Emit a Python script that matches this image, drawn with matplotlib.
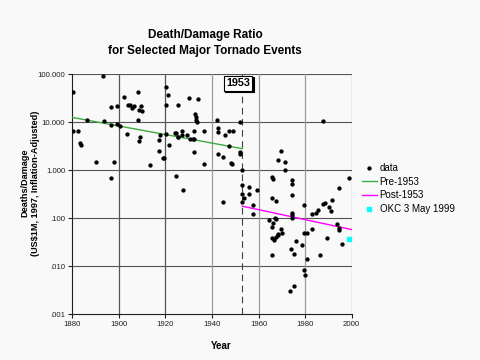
import matplotlib
matplotlib.use("Agg")
import matplotlib.pyplot as plt
from matplotlib import transforms

plt.rcParams['font.family'] = ['Liberation Sans', 'DejaVu Sans']

# tornado events: year, deaths per US$1M damage
years = [
    1880.3, 1880.3, 1882.4, 1883.1, 1883.8, 1886.5, 1890.3, 1893.4, 1893.7,
    1896.5, 1896.5, 1896.6, 1898.0, 1899.3, 1899.4, 1900.7, 1902.3, 1903.4,
    1904.0, 1905.0, 1905.7, 1906.4, 1908.1, 1908.2, 1908.5, 1909.2, 1908.6,
    1909.4, 1909.8, 1913.3, 1917.5, 1917.4, 1917.3, 1918.8, 1919.5, 1920.3,
    1921.2, 1920.2, 1920.3, 1921.5, 1924.3, 1924.6, 1925.3, 1925.3, 1924.5,
    1925.4, 1927.3, 1927.3, 1927.7, 1929.4, 1930.1, 1930.4, 1932.2, 1932.6,
    1933.0, 1933.3, 1933.7, 1934.2, 1931.8, 1932.3, 1932.4, 1936.5, 1936.5,
    1942.3, 1942.7, 1942.8, 1942.4, 1944.7, 1944.7, 1945.4, 1947.5, 1949.2,
    1947.5, 1948.2, 1948.5, 1952.1, 1952.1, 1952.2,
    # post-1953
    1953.1, 1953.1, 1955.7, 1959.2, 1953.1, 1956.0, 1953.8, 1953.1, 1957.5,
    1957.5, 1965.7, 1966.3, 1968.4, 1969.5, 1971.3, 1971.3, 1974.3, 1974.3,
    1974.3, 1965.7, 1967.4, 1964.4, 1967.1, 1967.3, 1974.2, 1974.3, 1974.4,
    1965.6, 1966.3, 1969.7, 1969.9, 1968.2, 1967.4, 1968.5, 1965.6, 1966.7,
    1965.6, 1979.7, 1985.7, 1984.9, 1982.8, 1988.7, 1987.9, 1991.7, 1990.4,
    1991.0, 1982.8, 1979.7, 1980.7, 1976.0, 1978.5, 1973.8, 1975.4, 1980.9,
    1986.3, 1979.5, 1979.9, 1975.4, 1973.6, 1989.3, 1993.5, 1994.6, 1994.6,
    1995.7, 1994.6, 1998.8, 1987.8,
]
ratios = [
    41.6, 6.6, 6.6, 3.7, 3.4, 10.9, 1.49, 92.0, 10.6,
    20.2, 8.5, 0.68, 1.49, 9.1, 21.5, 8.3, 33.0, 5.6,
    22.6, 22.6, 19.5, 22.0, 42.0, 10.9, 4.1, 4.8, 18.0,
    21.9, 16.7, 1.29, 5.4, 4.2, 2.5, 1.8, 1.8, 54.0,
    36.0, 23.0, 5.6, 3.4, 5.8, 0.75, 22.3, 4.8, 5.8,
    5.0, 6.6, 5.4, 0.39, 5.4, 31.0, 4.4, 4.4, 15.0,
    13.0, 11.3, 10.0, 30.0, 4.4, 6.6, 2.4, 6.6, 1.36,
    10.8, 7.4, 6.1, 2.2, 1.9, 0.22, 5.4, 6.6, 6.6,
    3.2, 1.4, 1.36, 9.8, 2.4, 2.2,
    # post-1953
    1.0, 0.49, 0.44, 0.39, 0.32, 0.32, 0.26, 0.22, 0.19,
    0.12, 0.72, 0.64, 1.6, 2.5, 1.5, 0.99, 0.62, 0.52,
    0.31, 0.26, 0.23, 0.090, 0.10, 0.095, 0.13, 0.115, 0.10,
    0.067, 0.08, 0.06, 0.05, 0.047, 0.040, 0.044, 0.039, 0.035,
    0.017, 0.19, 0.15, 0.13, 0.12, 0.21, 0.20, 0.24, 0.17,
    0.14, 0.061, 0.05, 0.05, 0.034, 0.028, 0.023, 0.018, 0.014,
    0.017, 0.0082, 0.0066, 0.0038, 0.0031, 0.039, 0.075, 0.064, 0.056,
    0.029, 0.42, 0.70, 10.3,
]

# fitted trend lines (end points)
pre_years = [1880, 1953]
pre_vals = [12.5, 2.8]
post_years = [1953, 2000]
post_vals = [0.178, 0.058]

okc_year = [1999]
okc_val = [0.037]

xticks = [1880, 1900, 1920, 1940, 1960, 1980, 2000]
yticks = [0.001, 0.01, 0.1, 1, 10, 100]
ytick_labels = ['.001', '.010', '.100', '1.000', '10.000', '100.000']

bg = '#f9f9f9'
fig = plt.figure(figsize=(4.8, 3.6), dpi=100, facecolor=bg)
ax = fig.add_axes([0.1506, 0.1269, 0.582, 0.6675], facecolor=bg)

ax.set_yscale('log')
ax.set_xlim(1880, 2000)
ax.set_ylim(0.001, 100)

# grid: horizontals darker, later verticals lighter (as in the original)
for y in yticks[1:]:
    ax.axhline(y, color='#555555', lw=0.8, zorder=1)
for x in xticks[1:]:
    c = '#555555' if x < 1940 else '#9a9a9a'
    ax.axvline(x, color=c, lw=0.9, zorder=1)

ax.axvline(1953, color='#404040', lw=0.8, ls=(0, (6, 4)), zorder=2)

ax.plot(years, ratios, 'o', color='black', ms=2.1, ls='none', zorder=4, label='data')
ax.plot(pre_years, pre_vals, color='#3daa3d', lw=1.0, zorder=3, label='Pre-1953')
ax.plot(post_years, post_vals, color='#ff00ff', lw=1.0, zorder=3, label='Post-1953')
ax.plot(okc_year, okc_val, 's', color='#00ffff', ms=2.2, ls='none', zorder=4,
        label='OKC 3 May 1999')

ax.set_xticks(xticks)
ax.set_yticks(yticks)
ax.set_yticklabels(ytick_labels)
ax.minorticks_off()
ax.tick_params(labelsize=5.6, length=3, width=0.8, colors='#202020', pad=2)

for s in ['top', 'right']:
    ax.spines[s].set_visible(False)
for s in ['left', 'bottom']:
    ax.spines[s].set_color('#202020')
    ax.spines[s].set_linewidth(0.8)

# 1953 marker box with a drop shadow
shadow = transforms.offset_copy(ax.get_xaxis_transform(), fig=fig, x=1.5, y=-1.5, units='dots')
ax.text(1951.2, 0.962, '1953', transform=shadow, ha='center', va='center',
        fontsize=7.8, fontweight='bold', color='black', zorder=5,
        bbox=dict(boxstyle='square,pad=0.22', fc='black', ec='black', lw=0.8))
ax.text(1951.2, 0.962, '1953', transform=ax.get_xaxis_transform(), ha='center', va='center',
        fontsize=7.8, fontweight='bold', color='black', zorder=6,
        bbox=dict(boxstyle='square,pad=0.22', fc='white', ec='black', lw=0.8))

fig.text(0.427, 1 - 43 / 360, 'Death/Damage Ratio\nfor Selected Major Tornado Events',
         ha='center', va='center', fontsize=8.5, fontweight='bold', linespacing=1.35)
fig.text(30 / 480, 1 - 183 / 360, 'Deaths/Damage\n(US$1M, 1997, Inflation-Adjusted)',
         ha='center', va='center', rotation=90, fontsize=6.6, fontweight='bold',
         linespacing=1.25)
fig.text(221 / 480, 1 - 346 / 360, 'Year', ha='center', va='center',
         fontsize=7, fontweight='bold')

fig.legend(loc='upper left', bbox_to_anchor=(362 / 480, 1 - 163 / 360), frameon=False,
           fontsize=7, handlelength=1.5, handletextpad=0.3, labelspacing=0.38,
           borderpad=0, borderaxespad=0)

fig.savefig('out.png', dpi=100, facecolor=bg)
